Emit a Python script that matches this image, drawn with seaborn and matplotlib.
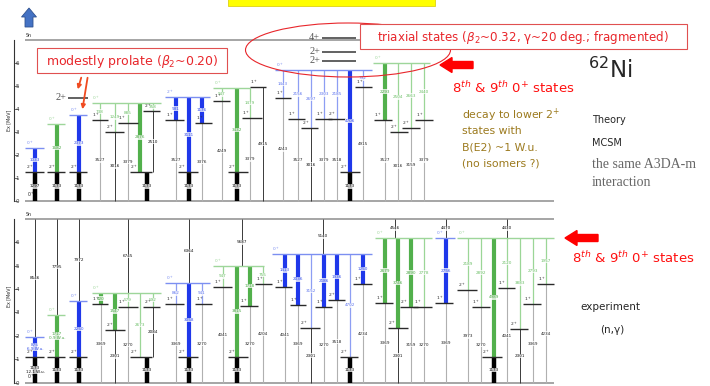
import numpy as np
import matplotlib.pyplot as plt
import seaborn as sns
from matplotlib.patches import Ellipse, Rectangle, FancyArrow

sns.set_theme(style="white")
plt.rcParams['font.family'] = ['DejaVu Sans']

# ---- data (energies in MeV) ----
e_sn_th = 7.0
e_sn_ex = 6.98

# theory (MCSM): levels (energy, spin, colour key)
th_levels = [
    (2.30, '0', 'b'), (1.26, '2', 'k'),
    (3.35, '0', 'g'), (1.26, '2', 'k'),
    (3.74, '0', 'b'), (1.26, '2', 'k'), (4.48, '2', 'big'),
    (4.26, '0', 'g'), (3.52, '1', 'k'), (3.00, '2', 'k'), (3.39, '1', 'k'), (3.91, '2', 'k'), (1.26, '2', 'k'),
    (4.52, '2', 'b'), (3.52, '1', 'k'), (1.26, '2', 'k'), (3.39, '1', 'k'),
    (4.91, '0', 'g'), (4.35, '1', 'k'), (1.26, '2', 'k'), (3.61, '1', 'k'), (4.96, '1', 'k'),
    (5.70, '0', 'b'), (4.48, '1', 'k'), (3.57, '1', 'k'), (3.17, '2', 'k'), (3.57, '1', 'k'),
    (3.57, '2', 'k'), (1.26, '2', 'k'), (4.96, '1', 'k'),
    (6.00, '0', 'g'), (3.52, '1', 'k'), (3.00, '2', 'k'), (3.17, '2', 'k'), (3.52, '1', 'k'),
    (7.09, '4', 'big'), (6.48, '2', 'big'), (6.09, '2', 'big'),
]
# gamma rays (from, to, label, style key)
th_gammas = [
    (2.30, 1.26, '1033', 'B'), (1.26, 0, '1297', 'K'),
    (3.35, 1.26, '1682', 'G'), (1.26, 0, '1173', 'K'),
    (3.74, 1.26, '2373', 'B'), (1.26, 0, '1173', 'K'),
    (4.26, 3.52, '738', 'g'), (4.26, 3.00, '1249', 'g'), (4.26, 3.39, '885', 'g'),
    (4.26, 1.26, '2876', 'G'), (4.26, 3.91, '358', 'g'),
    (3.52, 0, '3527', 'r'), (3.00, 0, '3016', 'k'), (3.39, 0, '3379', 'r'),
    (3.91, 1.26, '2510', 'k'), (1.26, 0, '1173', 'K'),
    (4.52, 3.52, '931', 'B'), (4.52, 1.26, '3111', 'B'), (4.52, 3.39, '1176', 'B'),
    (3.52, 0, '3527', 'r'), (3.39, 0, '3376', 'r'), (1.26, 0, '1173', 'K'),
    (4.91, 4.35, '947', 'g'), (4.91, 1.26, '3432', 'G'), (4.91, 3.61, '1479', 'g'),
    (4.35, 0, '4249', 'r'), (3.61, 0, '3379', 'r'), (4.96, 0, '4915', 'k'), (1.26, 0, '1173', 'K'),
    (5.70, 4.48, '1443', 'b'), (5.70, 3.57, '2156', 'b'), (5.70, 3.17, '2697', 'b'),
    (5.70, 3.57, '2303', 'b'), (5.70, 3.57, '2185', 'b'), (5.70, 1.26, '4706', 'B'),
    (5.70, 4.96, '792', 'b'),
    (4.48, 0, '4243', 'r'), (3.57, 0, '3527', 'r'), (3.17, 0, '3016', 'k'), (3.57, 0, '3379', 'r'),
    (3.57, 0, '3518', 'r'), (4.96, 0, '4915', 'r'), (1.26, 0, '1173', 'K'),
    (6.00, 3.52, '2293', 'G'), (6.00, 3.00, '2504', 'g'), (6.00, 3.17, '2663', 'g'),
    (6.00, 3.52, '2440', 'g'),
    (3.52, 0, '3527', 'r'), (3.00, 0, '3016', 'r'), (3.17, 0, '3159', 'r'), (3.52, 0, '3379', 'r'),
]

# experiment (n,gamma)
ex_levels = [
    (1.96, '0', 'b'), (1.11, '2', 'k'),
    (2.89, '0', 'g'), (1.11, '2', 'k'),
    (3.49, '0', 'b'), (1.11, '2', 'k'),
    (3.83, '0', 'g'), (3.36, '1', 'k'), (2.26, '2', 'k'), (3.23, '1', 'k'), (1.11, '2', 'k'), (3.23, '2', 'k'),
    (4.26, '0', 'b'), (3.36, '1', 'k'), (1.11, '2', 'k'), (3.36, '1', 'k'),
    (4.98, '0', 'g'), (4.09, '1', 'k'), (1.11, '2', 'k'), (3.28, '1', 'k'), (4.21, '1', 'k'),
    (5.49, '0', 'b'), (4.09, '1', 'k'), (3.32, '1', 'k'), (2.34, '2', 'k'), (3.23, '1', 'k'),
    (3.53, '2', 'k'), (1.11, '2', 'k'), (4.21, '1', 'k'),
    (6.17, '0', 'g'), (3.40, '1', 'k'), (2.34, '2', 'k'), (3.23, '2', 'k'), (3.23, '1', 'k'),
    (6.17, '0', 'b'), (3.40, '1', 'k'),
    (6.17, '0', 'g'), (3.96, '2', 'k'), (3.23, '1', 'k'), (1.11, '2', 'k'), (4.04, '1', 'k'),
    (2.30, '2', 'k'), (3.36, '1', 'k'), (4.21, '1', 'k'),
]
ex_gammas = [
    (e_sn_ex, 1.96, '8546', 'k'), (1.96, 1.11, '875\n6.9 W.u.', 'B'), (1.11, 0, '1173\n12.1 W.u.', 'K'),
    (e_sn_ex, 2.89, '7795', 'k'), (2.89, 1.11, '1717\n0.9 W.u.', 'G'), (1.11, 0, '1173', 'K'),
    (e_sn_ex, 3.49, '7972', 'k'), (3.49, 1.11, '2250', 'B'), (1.11, 0, '1173', 'K'),
    (e_sn_ex, 3.83, '6745', 'k'), (3.83, 3.36, '420', 'G'), (3.83, 2.26, '1547', 'G'),
    (3.83, 3.23, '579', 'g'), (3.83, 1.11, '2673', 'g'), (3.83, 3.23, '592', 'g'),
    (3.23, 1.11, '2084', 'k'), (3.36, 0, '3369', 'r'), (2.26, 0, '2301', 'k'),
    (3.23, 0, '3270', 'r'), (1.11, 0, '1173', 'K'),
    (e_sn_ex, 4.26, '6364', 'k'), (4.26, 3.36, '862', 'b'), (4.26, 1.11, '3058', 'B'),
    (4.26, 3.36, '941', 'b'), (3.36, 0, '3369', 'r'), (3.36, 0, '3270', 'r'), (1.11, 0, '1173', 'K'),
    (e_sn_ex, 4.98, '5687', 'k'), (4.98, 4.09, '947', 'g'), (4.98, 1.11, '3815', 'G'),
    (4.98, 3.28, '1718', 'G'), (4.98, 4.21, '755', 'g'),
    (4.09, 0, '4041', 'r'), (3.28, 0, '3270', 'r'), (4.21, 0, '4204', 'r'), (1.11, 0, '1173', 'K'),
    (e_sn_ex, 5.49, '5140', 'k'), (5.49, 4.09, '1413', 'B'), (5.49, 3.32, '2036', 'B'),
    (5.49, 2.34, '3152', 'b'), (5.49, 3.23, '2186', 'B'), (5.49, 3.53, '1936', 'B'),
    (5.49, 1.11, '4702', 'b'), (5.49, 4.21, '1250', 'B'),
    (4.09, 0, '4041', 'r'), (3.32, 0, '3369', 'r'), (2.34, 0, '2301', 'k'), (3.23, 0, '3270', 'r'),
    (3.53, 0, '3518', 'r'), (4.21, 0, '4234', 'r'), (1.11, 0, '1173', 'K'),
    (e_sn_ex, 6.17, '4546', 'k'), (6.17, 3.40, '2679', 'G'), (6.17, 2.34, '3746', 'G'),
    (6.17, 3.23, '2890', 'G'), (6.17, 3.23, '2778', 'g'),
    (3.40, 0, '3369', 'r'), (2.34, 0, '2301', 'k'), (3.23, 0, '3159', 'r'), (3.23, 0, '3270', 'r'),
    (e_sn_ex, 6.17, '4470', 'k'), (6.17, 3.40, '2756', 'B'), (3.40, 0, '3369', 'r'),
    (e_sn_ex, 6.17, '4430', 'k'), (6.17, 3.96, '2189', 'g'), (6.17, 3.23, '2892', 'g'),
    (6.17, 1.11, '4989', 'G'), (6.17, 4.04, '2120', 'g'), (6.17, 2.30, '3883', 'g'),
    (6.17, 3.36, '2793', 'g'), (6.17, 4.21, '1957', 'g'),
    (3.96, 0, '3973', 'r'), (3.23, 0, '3270', 'r'), (4.04, 0, '4041', 'r'), (2.30, 0, '2301', 'k'),
    (3.36, 0, '3369', 'r'), (4.21, 0, '4234', 'r'), (1.11, 0, '1173', 'K'),
]

# ---- layout: horizontal placement of levels and gamma lines (pixels) ----
th_level_x = [
    (25, 44), (25, 44), (47, 65), (47, 65), (69, 87), (69, 87), (68, 88),
    (92, 161), (92, 108), (105, 124), (118, 138), (143, 160), (130, 152),
    (165, 210), (165, 184), (178, 198), (195, 212),
    (213, 250), (213, 230), (228, 248), (242, 262), (250, 266),
    (275, 372), (275, 291), (288, 305), (301, 318), (315, 332), (328, 345), (340, 360), (355, 372),
    (373, 430), (374, 392), (390, 408), (402, 420), (415, 433),
    (322, 356), (322, 356), (322, 356),
]
th_gamma_x = [35, 35, 57, 57, 79, 79,
              100, 115, 128, 140, 153, 100, 115, 128, 153, 147,
              176, 189, 202, 176, 202, 189,
              222, 237, 250, 222, 250, 263, 237,
              283, 298, 311, 324, 337, 350, 363, 283, 298, 311, 324, 337, 363, 350,
              385, 398, 411, 424, 385, 398, 411, 424]
ex_level_x = [
    (25, 44), (25, 44), (47, 65), (47, 65), (69, 87), (69, 87),
    (92, 161), (92, 108), (105, 125), (118, 138), (130, 152), (143, 160),
    (165, 210), (165, 184), (178, 198), (195, 212),
    (213, 264), (213, 232), (228, 248), (240, 258), (255, 272),
    (272, 372), (275, 292), (290, 306), (300, 320), (315, 332), (328, 345), (340, 358), (353, 372),
    (375, 432), (375, 393), (388, 408), (400, 418), (413, 432),
    (435, 455), (435, 453),
    (457, 554), (457, 477), (472, 490), (482, 502), (498, 515), (510, 528), (523, 541), (537, 554),
]
ex_gamma_x = [35, 35, 35, 57, 57, 57, 79, 79, 79,
              128, 101, 115, 128, 140, 153, 153, 101, 115, 128, 147,
              189, 176, 189, 202, 176, 202, 189,
              242, 223, 237, 250, 263, 223, 250, 263, 237,
              323, 285, 298, 311, 324, 337, 350, 363, 285, 298, 311, 324, 337, 363, 350,
              395, 385, 398, 411, 424, 385, 398, 411, 424,
              446, 446, 446,
              507, 468, 481, 494, 507, 520, 533, 546, 468, 481, 507, 520, 533, 546, 494]

gamma_style = {'B': ('#1f38ea', 3.0), 'b': ('#8d9ef3', 0.9),
               'G': ('#52b04c', 3.0), 'g': ('#9bd697', 0.9),
               'K': ('#000000', 3.2), 'k': ('#3a3a3a', 0.7), 'r': ('#b0b0b0', 0.8)}
label_color = {'B': '#3550e8', 'b': '#5d74ee', 'G': '#4fa84a', 'g': '#6cbf67',
               'K': '#111111', 'k': '#111111', 'r': '#222222'}
level_color = {'b': '#7c8ff1', 'g': '#9ed69a', 'k': '#2a2a2a', 'big': '#555555'}


def draw_panel(ax, levels, level_x, gammas, gamma_x, e_sn):
    ax.hlines([0, e_sn], 25, 554, color='#a5a5a5', lw=1.4, zorder=1)
    ax.text(26, e_sn + 0.08, 'Sn', fontsize=3.4, va='bottom', ha='left')
    ax.text(27, 0.08, '$0^+$', fontsize=3.4, va='bottom', ha='left')
    for x, (e1, e2, lab, kind) in zip(gamma_x, gammas):
        col, lw = gamma_style[kind]
        ax.vlines(x, e2, e1, color=col, lw=lw, zorder=2)
        ax.text(x, (e1 + e2) / 2, lab, fontsize=3.0, color=label_color[kind],
                ha='center', va='center', linespacing=0.85, zorder=5,
                bbox=dict(fc='white', ec='none', pad=0.1, alpha=0.75))
    for (x0, x1), (e, spin, kind) in zip(level_x, levels):
        if kind == 'big':
            ax.hlines(e, x0, x1, color=level_color[kind], lw=1.3, zorder=3)
            ax.text(x0 - 2, e, spin + '+', fontsize=7.5, family='Liberation Serif',
                    color='#555555', ha='right', va='center')
        else:
            ax.hlines(e, x0, x1, color=level_color[kind], lw=1.0, zorder=3)
            ax.text(x0 + 0.5, e + 0.05, '$%s^+$' % spin, fontsize=3.2,
                    color=level_color[kind], ha='left', va='bottom', zorder=5)
    for s in ax.spines.values():
        s.set_visible(False)
    ax.spines['left'].set_visible(True)
    ax.spines['left'].set_position(('data', 14))
    ax.spines['left'].set_bounds(0, e_sn)
    ax.spines['left'].set_color('#333333')
    ax.spines['left'].set_linewidth(0.8)
    ax.set_yticks(range(7))
    ax.set_xticks([])
    ax.tick_params(axis='y', direction='in', length=3, width=0.5, labelsize=4,
                   pad=-1, left=True, colors='#333333')
    for t in ax.get_yticklabels():
        t.set_ha('left')
    ax.set_xlim(0, 710)
    ax.set_facecolor('none')


W, H = 710, 386
fig = plt.figure(figsize=(7.1, 3.86), dpi=100)

ax_top = fig.add_axes([0, 1 - 209 / H, 1, 189 / H])
ax_top.set_ylim(-0.35, 7.87)
draw_panel(ax_top, th_levels, th_level_x, th_gammas, th_gamma_x, e_sn_th)
ax_top.text(9, 3.5, 'Ex [MeV]', rotation=90, fontsize=3.4, ha='center', va='center')

ax_bot = fig.add_axes([0, 0, 1, 174 / H])
ax_bot.set_ylim(-0.128, 7.277)
draw_panel(ax_bot, ex_levels, ex_level_x, ex_gammas, ex_gamma_x, e_sn_ex)
ax_bot.text(9, 3.7, 'Ex [MeV]', rotation=90, fontsize=3.4, ha='center', va='center')

# ---- overlay annotations in pixel coordinates ----
ov = fig.add_axes([0, 0, 1, 1], zorder=10)
ov.set_xlim(0, W)
ov.set_ylim(H, 0)
ov.axis('off')
ov.set_facecolor('none')

ov.add_patch(Rectangle((228, -1), 207, 6.5, fc='#ffff00', ec='#d8c800', lw=0.5))
ov.add_patch(FancyArrow(29, 27, 0, -10, width=8, head_width=15, head_length=9,
                        length_includes_head=False, fc='#4472c4', ec='#2f528f', lw=0.6))

red = '#e8262b'
ov.add_patch(Rectangle((37, 48), 190, 25, fc='white', ec='#e05050', lw=0.8))
ov.text(132, 61, r'modestly prolate ($\beta_2$~0.20)', color=red, fontsize=9,
        ha='center', va='center')
for (xs, ys), (xe, ye) in [((82, 75), (77, 92)), ((88, 75), (82, 112))]:
    ov.annotate('', xy=(xe, ye), xytext=(xs, ys),
                arrowprops=dict(arrowstyle='-|>', color='#f04a20', lw=1.3, mutation_scale=6))

ov.add_patch(Ellipse((348, 50), 205, 54, fc='none', ec=red, lw=0.8))
ov.add_patch(Rectangle((360, 24), 327, 25, fc='white', ec='#e05050', lw=0.8))
ov.text(523, 37, r'triaxial states ($\beta_2$~0.32, γ~20 deg.; fragmented)', color=red,
        fontsize=8.6, ha='center', va='center')

for xa, ya, xt, yt in [(473, 65, 452, 88), (598, 238, 572, 258)]:
    ov.add_patch(FancyArrow(xa, ya, -21, 0, width=7, head_width=15, head_length=12,
                            fc='#ff0000', ec='#ff0000'))
    ov.text(xt, yt, r'8$^{th}$ & 9$^{th}$ 0$^{+}$ states', color='#ff1010', fontsize=9.5,
            ha='left', va='center')

ov.text(588, 78, r'$^{62}$Ni', fontsize=16.5, ha='left', va='baseline')

brown = '#9c7a1e'
for y, s in zip([115, 131, 147, 163],
                [r'decay to lower 2$^{+}$', 'states with', 'B(E2) ~1 W.u.', '(no isomers ?)']):
    ov.text(462, y, s, color=brown, fontsize=7.8, ha='left', va='center')

ov.text(592, 120, 'Theory', fontsize=7, ha='left', va='center')
ov.text(592, 143, 'MCSM', fontsize=7, ha='left', va='center')
ov.text(592, 165, 'the same A3DA-m', fontsize=10, family='Liberation Serif',
        color='#666666', ha='left', va='center')
ov.text(592, 183, 'interaction', fontsize=10, family='Liberation Serif',
        color='#666666', ha='left', va='center')
ov.text(580, 307, 'experiment', fontsize=7.5, ha='left', va='center')
ov.text(600, 330, '(n,γ)', fontsize=7.5, ha='left', va='center')

fig.savefig('out.png', dpi=100, facecolor='white')
